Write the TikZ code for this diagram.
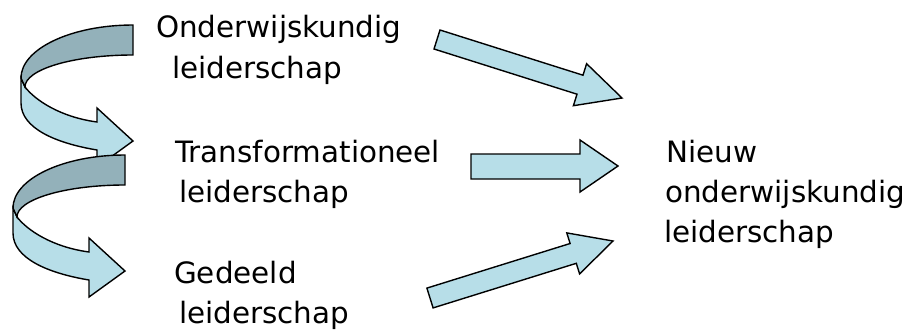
\documentclass[tikz,border=0pt]{standalone}
\usepackage{fontspec}
\setmainfont{DejaVu Sans}
\usepackage{xcolor}
\usepackage{tikz}
\definecolor{front}{HTML}{B7DEE8}
\definecolor{back}{HTML}{93B1BA}
\tikzset{
  blockarrow/.style={draw=black, fill=front, line width=1.4pt, line join=miter},
  backband/.style={draw=black, fill=back, line width=1.4pt, line join=miter},
  lab/.style={anchor=base west, inner sep=0pt, font=\fontsize{29.4bp}{34bp}\selectfont},
  spiral/.pic={
    % front part with head
    \draw[blockarrow] (-112,53) -- (-112,78)
      .. controls (-112,103) and (-78,118) .. (-36,125)
      -- (-36,142) -- (0,116) -- (-36,83) -- (-36,97)
      .. controls (-73,92) and (-98,75) .. (-108,62) -- cycle;
    % back part
    \draw[backband] (0,0) .. controls (-62,0) and (-112,24) .. (-112,53)
      -- (-108,62) .. controls (-108,44.3) and (-59.6,30) .. (0,30) -- cycle;
  }
}

\begin{document}
\begin{tikzpicture}[x=1bp, y=-1bp]
  \useasboundingbox (0,0) rectangle (911,329);

  % curved arrows
  \pic at (133,25) {spiral};
  \pic at (125,155) {spiral};

  % straight arrows
  \draw[blockarrow] (440,30) -- (583,75.2) -- (586.6,63.7) -- (622,98)
    -- (573.4,105.7) -- (577,94.2) -- (434,49) -- cycle;
  \draw[blockarrow] (471,154) -- (580,154) -- (580,140) -- (618,166)
    -- (580,192) -- (580,179) -- (471,179) -- cycle;
  \draw[blockarrow] (426.9,288.1) -- (570.1,243.5) -- (566.8,232.9) -- (613,241)
    -- (579.6,273.9) -- (576.3,263.3) -- (433.1,307.9) -- cycle;

  \node[lab] (ond1) at (156,37) {Onderwijskundig};
  \node[lab] (ond2) at (172,78) {leiderschap};
  \node[lab] (trans1) at (175,162) {Transformationeel};
  \node[lab] (trans2) at (179,202) {leiderschap};
  \node[lab] (ged1) at (174,283) {Gedeeld};
  \node[lab] (ged2) at (179,323) {leiderschap};
  \node[lab] (nieuw1) at (666,162) {Nieuw};
  \node[lab] (nieuw2) at (665,202) {onderwijskundig};
  \node[lab] (nieuw3) at (664,242) {leiderschap};
\end{tikzpicture}
\end{document}
